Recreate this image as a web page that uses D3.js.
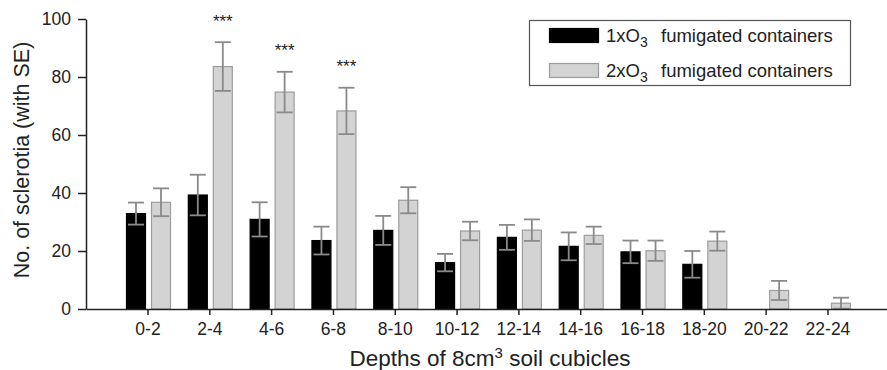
<!DOCTYPE html>
<html>
<head>
<meta charset="utf-8">
<script src="https://cdn.jsdelivr.net/npm/d3@7/dist/d3.min.js"></script>
<style>
  html, body { margin: 0; padding: 0; background: #fff; }
  text { font-family: "Liberation Sans", Arial, Helvetica, sans-serif; fill: #222; }
</style>
</head>
<body>
<svg id="chart" width="887" height="370"></svg>
<script>
const categories = ["0-2","2-4","4-6","6-8","8-10","10-12","12-14","14-16","16-18","18-20","20-22","22-24"];
const o3x1 = [32.9, 39.3, 30.9, 23.6, 27.1, 16.0, 24.7, 21.6, 19.7, 15.4, 0, 0];
const o3x1SE = [3.8, 7.0, 5.9, 4.8, 5.0, 3.0, 4.3, 4.8, 3.9, 4.6, 0, 0];
const o3x2 = [36.8, 83.6, 74.8, 68.3, 37.5, 26.9, 27.2, 25.4, 20.1, 23.4, 6.4, 2.0];
const o3x2SE = [4.8, 8.4, 7.0, 8.0, 4.5, 3.2, 3.7, 3.0, 3.5, 3.3, 3.3, 1.9];
const significance = ["", "***", "***", "***", "", "", "", "", "", "", "", ""];
const yTicks = [0, 20, 40, 60, 80, 100];
const seriesNames = ["1x", "2x"];

const svg = d3.select("#chart");
const x = d3.scaleBand().domain(categories).range([86, 887])
  .paddingInner(0).paddingOuter(0.479).align(0.525);
const xs = d3.scaleBand().domain(seriesNames).range([-22, 23]).paddingInner(0.2);
const y = d3.scaleLinear().domain([0, 100]).range([309, 19]);
const center = c => x(c) + x.bandwidth() / 2;

const fills = { "1x": "#000", "2x": "#d3d3d3" };
const strokes = { "1x": "#000", "2x": "#9c9c9c" };

const rows = [];
categories.forEach((c, i) => {
  rows.push({ c, s: "1x", v: o3x1[i], se: o3x1SE[i] });
  rows.push({ c, s: "2x", v: o3x2[i], se: o3x2SE[i] });
});
const drawn = rows.filter(d => d.v > 0);

// bars
svg.append("g").selectAll("rect").data(drawn).join("rect")
  .attr("x", d => center(d.c) + xs(d.s) + 0.5)
  .attr("y", d => y(d.v))
  .attr("width", xs.bandwidth() - 1)
  .attr("height", d => y(0) - y(d.v))
  .attr("fill", d => fills[d.s])
  .attr("stroke", d => strokes[d.s])
  .attr("stroke-width", 1.2);

// error bars
const eb = svg.append("g").attr("stroke", "#8a8a8a").attr("stroke-width", 1.8).attr("fill", "none");
drawn.forEach(d => {
  const cx = center(d.c) + xs(d.s) + xs.bandwidth() / 2;
  eb.append("line").attr("x1", cx).attr("x2", cx).attr("y1", y(d.v - d.se)).attr("y2", y(d.v + d.se));
  eb.append("line").attr("x1", cx - 8).attr("x2", cx + 8).attr("y1", y(d.v + d.se)).attr("y2", y(d.v + d.se));
  eb.append("line").attr("x1", cx - 8).attr("x2", cx + 8).attr("y1", y(d.v - d.se)).attr("y2", y(d.v - d.se));
});

// significance stars
svg.append("g").selectAll("text").data(categories.map((c, i) => ({ c, s: significance[i], top: o3x2[i] + o3x2SE[i] })).filter(d => d.s))
  .join("text")
  .attr("x", d => center(d.c) + xs("2x") + xs.bandwidth() / 2)
  .attr("y", d => y(d.top) - 15.5)
  .attr("text-anchor", "middle")
  .attr("font-size", 17)
  .text(d => d.s);

// axes
const xAxis = svg.append("g").attr("transform", `translate(0,${y(0)})`)
  .call(d3.axisBottom(x).tickSize(6).tickSizeOuter(0).tickPadding(8));
const yAxis = svg.append("g").attr("transform", `translate(86,0)`)
  .call(d3.axisLeft(y).tickValues(yTicks).tickSize(8).tickSizeOuter(0).tickPadding(7));
[xAxis, yAxis].forEach(g => {
  g.selectAll("path,line").attr("stroke", "#222").attr("stroke-width", 1.5);
  g.selectAll("text").attr("font-size", 17.5).attr("fill", "#222")
    .style("font-family", '"Liberation Sans", Arial, sans-serif');
});

// axis titles
const xt = svg.append("text").attr("x", 490).attr("y", 366).attr("text-anchor", "middle").attr("font-size", 22.5);
xt.append("tspan").text("Depths of 8cm");
xt.append("tspan").attr("font-size", 15).attr("dy", -8).text("3");
xt.append("tspan").attr("dy", 8).text(" soil cubicles");

svg.append("text").attr("transform", "translate(29,160) rotate(-90)")
  .attr("text-anchor", "middle").attr("font-size", 21.5)
  .text("No. of sclerotia (with SE)");

// legend
const lg = svg.append("g");
lg.append("rect").attr("x", 529.5).attr("y", 20.5).attr("width", 321).attr("height", 65)
  .attr("fill", "#fff").attr("stroke", "#555").attr("stroke-width", 1.2);
const legendItems = [{ s: "1x", label: "1xO", y: 28.5 }, { s: "2x", label: "2xO", y: 63.5 }];
legendItems.forEach(it => {
  lg.append("rect").attr("x", 549.5).attr("y", it.y).attr("width", 49).attr("height", 14)
    .attr("fill", fills[it.s]).attr("stroke", strokes[it.s]).attr("stroke-width", 1.2);
  const t = lg.append("text").attr("x", 606).attr("y", it.y + 13.5).attr("font-size", 18.5);
  t.append("tspan").text(it.label);
  t.append("tspan").attr("font-size", 14).attr("dy", 5).text("3");
  lg.append("text").attr("x", 661).attr("y", it.y + 13.5).attr("font-size", 18.5).text("fumigated containers");
});
</script>
</body>
</html>
